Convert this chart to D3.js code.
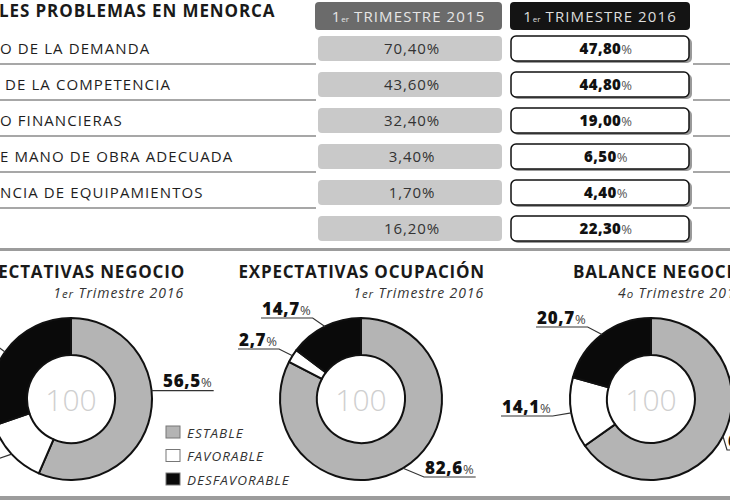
<!DOCTYPE html>
<html>
<head>
<meta charset="utf-8">
<script src="https://cdn.jsdelivr.net/npm/d3@7"></script>
<style>
  body { margin: 0; background: #fff; }
  svg { display: block; font-family: "Open Sans", sans-serif; }
</style>
</head>
<body>
<svg id="chart" width="730" height="500"></svg>
<script>
// table data
var problemLabels = [
  "O DE LA DEMANDA",
  " DE LA COMPETENCIA",
  "O FINANCIERAS",
  "E MANO DE OBRA ADECUADA",
  "NCIA DE EQUIPAMIENTOS",
  ""
];
var values2015 = [70.4, 43.6, 32.4, 3.4, 1.7, 16.2];
var values2016 = [47.8, 44.8, 19.0, 6.5, 4.4, 22.3];
var periodLabels = ["TRIMESTRE 2015", "TRIMESTRE 2016"];
var tableTitle = "LES PROBLEMAS EN MENORCA";

// donut data
var categories = ["ESTABLE", "FAVORABLE", "DESFAVORABLE"];
var donutTitles = ["ECTATIVAS NEGOCIO", "EXPECTATIVAS OCUPACIÓN", "BALANCE NEGOCIO"];
var donutSubtitles = [["1", "er", " Trimestre 2016"], ["1", "er", " Trimestre 2016"], ["4", "o", " Trimestre 2015"]];
var negocio = [56.5, 13.2, 30.3];
var ocupacion = [82.6, 2.7, 14.7];
var balance = [65.2, 14.1, 20.7];

var svg = d3.select("#chart");
var fmt = function(v, digits) {
  return v.toFixed(digits).replace(".", ",");
};

// ---------- table ----------
svg.append("text")
  .attr("x", -1)
  .attr("y", 17)
  .attr("font-size", 17)
  .attr("font-weight", 700)
  .attr("letter-spacing", 0.9)
  .attr("fill", "#1a1a1a")
  .text(tableTitle);

var cols = [
  { x: 315, w: 187, fill: "#6b6b6b", text: "#e6e6e6" },
  { x: 510, w: 180, fill: "#141414", text: "#dddddd" }
];

cols.forEach(function(c, i) {
  svg.append("rect")
    .attr("x", c.x).attr("y", 2)
    .attr("width", c.w).attr("height", 28)
    .attr("rx", 4)
    .attr("fill", c.fill);
  var t = svg.append("text")
    .attr("x", c.x + c.w / 2)
    .attr("y", 22)
    .attr("text-anchor", "middle")
    .attr("font-size", 15)
    .attr("letter-spacing", 1.1)
    .attr("fill", c.text);
  t.append("tspan").text("1");
  t.append("tspan").attr("font-size", 8).attr("letter-spacing", 0).text("er");
  t.append("tspan").text(" " + periodLabels[i]);
});

var y = d3.scaleBand()
  .domain(d3.range(problemLabels.length))
  .range([36, 241])
  .paddingInner(11 / 36);

var rows = svg.selectAll("g.row")
  .data(problemLabels)
  .enter()
  .append("g")
  .attr("class", "row")
  .attr("transform", function(d, i) { return "translate(0," + y(i) + ")"; });

rows.filter(function(d, i) { return i < problemLabels.length - 1; })
  .append("g")
  .attr("stroke", "#8a8a8a")
  .attr("stroke-width", 1.5)
  .call(function(g) {
    g.append("line").attr("x1", 0).attr("x2", 316).attr("y1", 28).attr("y2", 28);
    g.append("line").attr("x1", 693).attr("x2", 730).attr("y1", 28).attr("y2", 28);
  });

rows.append("text")
  .attr("x", 0)
  .attr("y", 17.5)
  .attr("font-size", 15)
  .attr("letter-spacing", 1.1)
  .attr("fill", "#1e1e1e")
  .attr("xml:space", "preserve")
  .style("white-space", "pre")
  .text(function(d) { return d; });

rows.append("rect")
  .attr("x", 318).attr("y", 0)
  .attr("width", 184).attr("height", y.bandwidth())
  .attr("rx", 4)
  .attr("fill", "#c9c9c9");

rows.append("text")
  .attr("x", 412)
  .attr("y", 18)
  .attr("text-anchor", "middle")
  .attr("font-size", 15)
  .attr("letter-spacing", 0.9)
  .attr("fill", "#333")
  .text(function(d, i) { return fmt(values2015[i], 2) + "%"; });

rows.append("rect")
  .attr("x", 513).attr("y", 2)
  .attr("width", 179).attr("height", y.bandwidth())
  .attr("rx", 5)
  .attr("fill", "#9a9a9a");

rows.append("rect")
  .attr("x", 511).attr("y", 0)
  .attr("width", 178).attr("height", y.bandwidth())
  .attr("rx", 5)
  .attr("fill", "#fff")
  .attr("stroke", "#111")
  .attr("stroke-width", 1.5);

var v16 = rows.append("text")
  .attr("x", 606)
  .attr("y", 17.5)
  .attr("text-anchor", "middle")
  .attr("font-size", 15)
  .attr("font-weight", 800)
  .attr("letter-spacing", 0.4)
  .attr("fill", "#111");
v16.append("tspan").text(function(d, i) { return fmt(values2016[i], 2); });
v16.append("tspan").attr("font-weight", 400).attr("font-size", 13).attr("fill", "#555").text("%");

// ---------- dividers ----------
svg.append("rect").attr("x", 0).attr("y", 248).attr("width", 730).attr("height", 3).attr("fill", "#9c9c9c");
svg.append("rect").attr("x", 0).attr("y", 496).attr("width", 730).attr("height", 4).attr("fill", "#9c9c9c");

// ---------- donuts ----------
var fills = ["#b4b4b4", "#ffffff", "#0a0a0a"];
var pie = d3.pie().sort(null).value(function(d) { return d; });
var arc = d3.arc().innerRadius(44).outerRadius(81);

var donuts = [
  {
    values: negocio, cx: 71, cy: 399, titleEnd: 185,
    // label layout per segment: text x, baseline, optional anchor angle (deg);
    // "off" labels sit beyond the left edge, only their leader shows
    labels: [
      { tx: 163, ty: 387, angle: 84 },
      { tx: -60, ty: 457, off: true },
      { tx: -62, ty: 340, off: true }
    ]
  },
  {
    values: ocupacion, cx: 361, cy: 399, titleEnd: 485,
    labels: [
      { tx: 425, ty: 474 },
      { tx: 239, ty: 346 },
      { tx: 262, ty: 315 }
    ]
  },
  {
    values: balance, cx: 651, cy: 399, titleStart: 573,
    labels: [
      { tx: 728, ty: 447 },
      { tx: 502, ty: 413 },
      { tx: 537, ty: 324 }
    ]
  }
];

donuts.forEach(function(dn, k) {
  var g = svg.append("g");

  // title and subtitle
  var title = g.append("text")
    .attr("y", 278)
    .attr("font-size", 17)
    .attr("font-weight", 700)
    .attr("letter-spacing", 0.8)
    .attr("fill", "#1a1a1a")
    .text(donutTitles[k]);
  var sub = g.append("text")
    .attr("y", 298)
    .attr("font-size", 14)
    .attr("font-style", "italic")
    .attr("letter-spacing", 0.9)
    .attr("fill", "#333");
  sub.append("tspan").text(donutSubtitles[k][0]);
  sub.append("tspan").attr("font-size", 11.5).text(donutSubtitles[k][1]);
  sub.append("tspan").text(donutSubtitles[k][2]);
  if (dn.titleEnd) {
    title.attr("x", dn.titleEnd).attr("text-anchor", "end");
    sub.attr("x", dn.titleEnd - 1).attr("text-anchor", "end");
  } else {
    title.attr("x", dn.titleStart);
    sub.attr("x", dn.titleStart + 45);
  }

  var ring = g.append("g").attr("transform", "translate(" + dn.cx + "," + dn.cy + ")");
  var arcs = pie(dn.values);

  ring.selectAll("path")
    .data(arcs)
    .enter()
    .append("path")
    .attr("d", arc)
    .attr("fill", function(d, i) { return fills[i]; })
    .attr("stroke", "#111")
    .attr("stroke-width", 2)
    .attr("stroke-linejoin", "round");

  ring.append("text")
    .attr("y", 12)
    .attr("text-anchor", "middle")
    .attr("font-size", 30)
    .attr("font-weight", 300)
    .attr("fill", "#cfcfcf")
    .text("100");

  // value labels with leader lines
  arcs.forEach(function(a, i) {
    var lab = dn.labels[i];
    var ang = lab.angle !== undefined ? lab.angle * Math.PI / 180 : (a.startAngle + a.endAngle) / 2;
    var px = dn.cx + 81 * Math.sin(ang);
    var py = dn.cy - 81 * Math.cos(ang);
    var uy = lab.ty + 3;
    var x0, x1;

    if (lab.off) {
      x0 = lab.tx; x1 = lab.tx + 55;
    } else {
      var t = g.append("text")
        .attr("x", lab.tx)
        .attr("y", lab.ty)
        .attr("font-size", 17)
        .attr("font-weight", 800)
        .attr("letter-spacing", 0.7)
        .attr("fill", "#111");
      t.append("tspan").text(fmt(a.data, 1));
      t.append("tspan").attr("font-weight", 400).attr("font-size", 13).attr("letter-spacing", 0).attr("fill", "#444").text("%");
      var w = t.node().getComputedTextLength();
      x0 = lab.tx - 1; x1 = lab.tx + w + 2;
    }

    var near = Math.abs(px - x0) < Math.abs(px - x1) ? x0 : x1;
    var far = near === x0 ? x1 : x0;
    if (lab.angle !== undefined) { uy = py; near = px; }

    g.append("polyline")
      .attr("points", [[px, py], [near, uy], [far, uy]].map(function(p) { return p.join(","); }).join(" "))
      .attr("fill", "none")
      .attr("stroke", "#333")
      .attr("stroke-width", 1.2);
  });
});

// ---------- legend ----------
var legend = svg.append("g")
  .selectAll("g")
  .data(categories)
  .enter()
  .append("g")
  .attr("transform", function(d, i) { return "translate(166," + (426 + i * 23.5) + ")"; });

legend.append("rect")
  .attr("width", 14).attr("height", 12)
  .attr("fill", function(d, i) { return fills[i]; })
  .attr("stroke", "#777")
  .attr("stroke-width", 1);

legend.append("text")
  .attr("x", 21)
  .attr("y", 11.5)
  .attr("font-size", 13.5)
  .attr("font-style", "italic")
  .attr("letter-spacing", 1)
  .attr("fill", "#333")
  .text(function(d) { return d; });
</script>
</body>
</html>
